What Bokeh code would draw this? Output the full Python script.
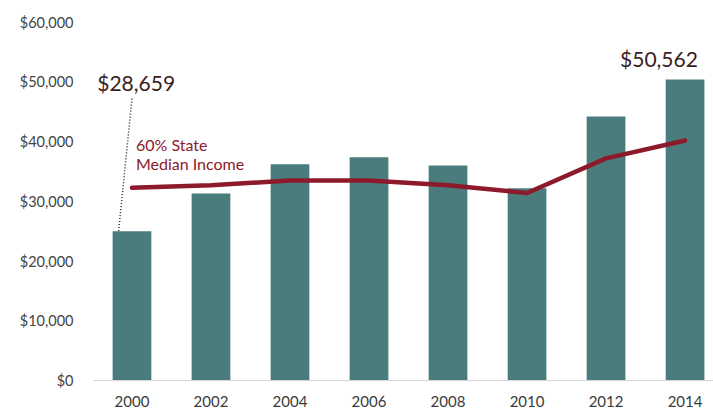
from bokeh.plotting import figure
from bokeh.models import ColumnDataSource, NumeralTickFormatter, FixedTicker, Range1d
from bokeh.core.properties import value
from bokeh.embed import file_html
from bokeh.resources import INLINE

years = ["2000", "2002", "2004", "2006", "2008", "2010", "2012", "2014"]
bar_values = [25000, 31300, 36200, 37400, 36000, 32200, 44200, 50400]
state_median_60 = [32300, 32700, 33500, 33500, 32700, 31400, 37200, 40200]
y_ticks = [0, 10000, 20000, 30000, 40000, 50000, 60000]
label_first = "$28,659"
label_last = "$50,562"
line_label = ["60% State", "Median Income"]

idx = list(range(len(years)))

p = figure(width=713, height=412, output_backend="svg", toolbar_location=None,
           x_range=Range1d(-0.487, 7.36), y_range=Range1d(0, 62300),
           min_border_left=93, min_border_right=0, min_border_top=8, min_border_bottom=32)
p.outline_line_color = None
p.grid.visible = False
p.background_fill_color = "white"

src = ColumnDataSource(dict(x=idx, top=bar_values, line=state_median_60))
p.vbar(x="x", top="top", width=0.49, bottom=0, source=src, fill_color="#4a7c7e", line_color=None)
p.line(x="x", y="line", source=src, line_color="#8c1a2a", line_width=4.5, line_join="round", line_cap="round")

# annotations
p.segment(x0=[0.0], y0=[47200], x1=[-0.17], y1=[24900], line_color="#3b1e1e", line_width=1.5, line_dash="1 2")
p.text(x=[-0.44], y=[49900], text=[label_first], text_font=value("Lato"), text_font_size="21px",
       text_color="#3b1e1e", text_baseline="middle", text_align="left")
p.text(x=[6.67], y=[53900], text=[label_last], text_font=value("Lato"), text_font_size="21px",
       text_color="#3b1e1e", text_baseline="middle", text_align="center")
p.text(x=[0.05, 0.05], y=[39500, 36300], text=line_label, text_font=value("Lato"), text_font_size="16px",
       text_color="#8c1a2a", text_baseline="middle", text_align="left")

# axes
p.xaxis.ticker = FixedTicker(ticks=idx)
p.xaxis.major_label_overrides = {i: y for i, y in zip(idx, years)}
p.xaxis.axis_line_color = "#d4d4d4"
p.xaxis.major_tick_line_color = None
p.xaxis.minor_tick_line_color = None
p.xaxis.major_label_text_font = "Lato"
p.xaxis.major_label_text_font_size = "15px"
p.xaxis.major_label_text_color = "#3a3a3a"
p.xaxis.major_label_standoff = 9

p.yaxis.ticker = FixedTicker(ticks=y_ticks)
p.yaxis.formatter = NumeralTickFormatter(format="$0,0")
p.yaxis.axis_line_color = None
p.yaxis.major_tick_line_color = None
p.yaxis.minor_tick_line_color = None
p.yaxis.major_label_text_font = "Lato"
p.yaxis.major_label_text_font_size = "14.5px"
p.yaxis.major_label_text_color = "#444444"
p.yaxis.major_label_standoff = 14

open("out.html", "w").write(file_html(p, INLINE))
